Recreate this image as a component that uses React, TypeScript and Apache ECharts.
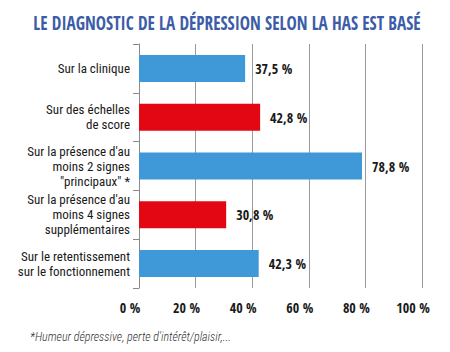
import React, { useEffect, useRef } from "react";
import * as echarts from "echarts";

const categories = [
  "Sur la clinique",
  "Sur des échelles\nde score",
  "Sur la présence d'au\nmoins 2 signes\n\"principaux\" *",
  "Sur la présence d'au\nmoins 4 signes\nsupplémentaires",
  "Sur le retentissement\nsur le fonctionnement",
];
const values = [37.5, 42.8, 78.8, 30.8, 42.3];
const barColors = ["#3f98d7", "#e30613", "#3f98d7", "#e30613", "#3f98d7"];
const xTicks = [0, 20, 40, 60, 80, 100];
const titleText = "LE DIAGNOSTIC DE LA DÉPRESSION SELON LA HAS EST BASÉ";
const footnote = "*Humeur dépressive, perte d'intérêt/plaisir,...";

const RC = "'Roboto Condensed', 'Open Sans Condensed', sans-serif";
const OSC = "'Open Sans Condensed', 'Roboto Condensed', sans-serif";

export default function App() {
  const ref = useRef<HTMLDivElement>(null);
  useEffect(() => {
    if (!ref.current) return;
    const chart = echarts.init(ref.current, null, { renderer: "svg" });
    chart.setOption({
      animation: false,
      backgroundColor: "#ffffff",
      grid: { left: 139, top: 44, width: 283, height: 244, containLabel: false },
      xAxis: {
        type: "value",
        min: 0,
        max: 100,
        interval: 20,
        axisLine: { show: false },
        axisTick: { show: false },
        splitLine: { show: true, lineStyle: { color: "#9a9a9a", width: 1 } },
        axisLabel: {
          formatter: (v: number) => (xTicks.includes(v) ? `${v} %` : ""),
          fontFamily: OSC,
          fontWeight: "bold",
          fontSize: 14,
          color: "#1a1a1a",
          margin: 12,
          padding: [0, 18, 0, 0],
        },
      },
      yAxis: {
        type: "category",
        data: categories,
        inverse: true,
        axisLine: { show: true, lineStyle: { color: "#8a8a8a", width: 1 } },
        axisTick: { show: true, length: 6, lineStyle: { color: "#8a8a8a" } },
        axisLabel: {
          fontFamily: RC,
          fontSize: 13,
          lineHeight: 15,
          color: "#1a1a1a",
          margin: 9,
          align: "right",
        },
      },
      series: [
        {
          type: "bar",
          data: values.map((v, i) => ({ value: v, itemStyle: { color: barColors[i] } })),
          barWidth: 27,
          label: {
            show: true,
            position: "right",
            distance: 10,
            formatter: (p: any) => `${String(p.value).replace(".", ",")} %`,
            fontFamily: OSC,
            fontWeight: "bold",
            fontSize: 14,
            color: "#1a1a1a",
          },
        },
      ],
      graphic: [
        {
          type: "text",
          x: 227,
          y: 22,
          scaleX: 0.86,
          style: {
            text: titleText,
            textAlign: "center",
            textVerticalAlign: "middle",
            fontFamily: OSC,
            fontWeight: "bold",
            fontSize: 20,
            fill: "#3c5ca8",
          },
        },
        {
          type: "text",
          x: 30,
          y: 337,
          style: {
            text: footnote,
            textVerticalAlign: "middle",
            fontFamily: RC,
            fontStyle: "italic",
            fontWeight: 300,
            fontSize: 12,
            fill: "#333333",
          },
        },
      ],
    });
    return () => chart.dispose();
  }, []);
  return (
    <div
      ref={ref}
      style={{ position: "fixed", left: 0, top: 0, width: 450, height: 352 }}
    />
  );
}
